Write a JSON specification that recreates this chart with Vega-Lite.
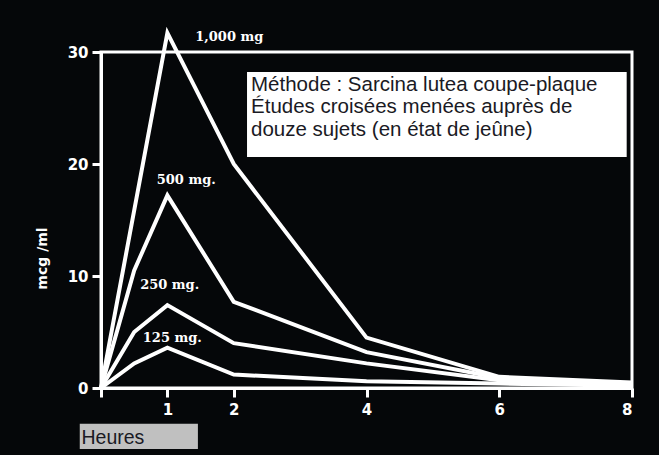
{
  "$schema": "https://vega.github.io/schema/vega-lite/v6.json",
  "width": 531,
  "height": 336,
  "autosize": {"type": "none"},
  "padding": {"left": 101, "top": 52, "right": 27, "bottom": 67},
  "background": "#050709",
  "config": {
    "view": {"stroke": "white", "strokeWidth": 3},
    "axis": {
      "grid": false,
      "domainColor": "white",
      "domainWidth": 3,
      "tickColor": "white",
      "tickWidth": 3,
      "labelColor": "white",
      "labelFont": "DejaVu Sans",
      "labelFontWeight": "bold",
      "labelFontSize": 15
    }
  },
  "datasets": {
    "curves": [
      {"dose": "1,000 mg", "hour": 0, "mcg": 0},
      {"dose": "1,000 mg", "hour": 1, "mcg": 31.7},
      {"dose": "1,000 mg", "hour": 2, "mcg": 20},
      {"dose": "1,000 mg", "hour": 4, "mcg": 4.5},
      {"dose": "1,000 mg", "hour": 6, "mcg": 1.0},
      {"dose": "1,000 mg", "hour": 8, "mcg": 0.5},
      {"dose": "500 mg", "hour": 0, "mcg": 0},
      {"dose": "500 mg", "hour": 0.5, "mcg": 10.5},
      {"dose": "500 mg", "hour": 1, "mcg": 17.2},
      {"dose": "500 mg", "hour": 2, "mcg": 7.7},
      {"dose": "500 mg", "hour": 4, "mcg": 3.2},
      {"dose": "500 mg", "hour": 6, "mcg": 0.9},
      {"dose": "500 mg", "hour": 8, "mcg": 0.4},
      {"dose": "250 mg", "hour": 0, "mcg": 0},
      {"dose": "250 mg", "hour": 0.5, "mcg": 5.0},
      {"dose": "250 mg", "hour": 1, "mcg": 7.4},
      {"dose": "250 mg", "hour": 2, "mcg": 4.0},
      {"dose": "250 mg", "hour": 4, "mcg": 2.2},
      {"dose": "250 mg", "hour": 6, "mcg": 0.7},
      {"dose": "250 mg", "hour": 8, "mcg": 0.3},
      {"dose": "125 mg", "hour": 0, "mcg": 0},
      {"dose": "125 mg", "hour": 0.5, "mcg": 2.2},
      {"dose": "125 mg", "hour": 1, "mcg": 3.6},
      {"dose": "125 mg", "hour": 2, "mcg": 1.2},
      {"dose": "125 mg", "hour": 4, "mcg": 0.6},
      {"dose": "125 mg", "hour": 6, "mcg": 0.4},
      {"dose": "125 mg", "hour": 8, "mcg": 0.2}
    ],
    "labels": [
      {"label": "1,000 mg", "hour": 1.42, "mcg": 31.3},
      {"label": "500 mg.", "hour": 0.84, "mcg": 18.6},
      {"label": "250 mg.", "hour": 0.59, "mcg": 9.2},
      {"label": "125 mg.", "hour": 0.63, "mcg": 4.5}
    ],
    "one": [{}]
  },
  "layer": [
    {
      "data": {"name": "one"},
      "mark": {"type": "rect", "color": "#c0c0c0"},
      "encoding": {
        "x": {"datum": -0.32, "type": "quantitative", "scale": {"domain": [0, 8], "nice": false}},
        "x2": {"datum": 1.46},
        "y": {"datum": -3.2, "type": "quantitative", "scale": {"domain": [0, 30], "nice": false}},
        "y2": {"datum": -5.45}
      }
    },
    {
      "data": {"name": "curves"},
      "mark": {"type": "line", "color": "white", "strokeWidth": 4, "strokeJoin": "miter"},
      "encoding": {
        "x": {
          "field": "hour",
          "type": "quantitative",
          "scale": {"domain": [0, 8], "nice": false},
          "axis": {
            "values": [0, 1, 2, 4, 6, 8],
            "format": "d",
            "labelExpr": "datum.value == 0 ? '' : datum.label",
            "tickSize": 9,
            "labelPadding": 5,
            "zindex": 1,
            "title": "Heures",
            "titleX": -20,
            "titleY": 49,
            "titleAlign": "left",
            "titleBaseline": "middle",
            "titleColor": "#1a1a24",
            "titleFont": "Liberation Sans",
            "titleFontWeight": "normal",
            "titleFontSize": 19.5
          }
        },
        "y": {
          "field": "mcg",
          "type": "quantitative",
          "scale": {"domain": [0, 30], "nice": false},
          "axis": {
            "values": [0, 10, 20, 30],
            "tickSize": 9,
            "labelPadding": 4,
            "title": "mcg /ml",
            "titleX": -59,
            "titleY": 206,
            "titleAngle": -90,
            "titleAlign": "center",
            "titleBaseline": "middle",
            "titleColor": "white",
            "titleFont": "DejaVu Sans",
            "titleFontWeight": "bold",
            "titleFontSize": 14
          }
        },
        "detail": {"field": "dose"}
      }
    },
    {
      "data": {"name": "labels"},
      "mark": {"type": "text", "color": "white", "font": "DejaVu Serif", "fontWeight": "bold", "fontSize": 13, "align": "left", "baseline": "middle"},
      "encoding": {
        "x": {"field": "hour", "type": "quantitative"},
        "y": {"field": "mcg", "type": "quantitative"},
        "text": {"field": "label"}
      }
    },
    {
      "data": {"name": "one"},
      "mark": {"type": "rect", "color": "white"},
      "encoding": {
        "x": {"datum": 2.2, "type": "quantitative"},
        "x2": {"datum": 7.92},
        "y": {"datum": 28.21, "type": "quantitative"},
        "y2": {"datum": 20.63}
      }
    },
    {
      "data": {"name": "one"},
      "mark": {"type": "text", "color": "#1a1a24", "font": "Liberation Sans", "fontSize": 20.5, "align": "left", "baseline": "alphabetic", "lineHeight": 22.5},
      "encoding": {
        "x": {"datum": 2.26, "type": "quantitative"},
        "y": {"datum": 26.52, "type": "quantitative"},
        "text": {"value": ["Méthode : Sarcina lutea coupe-plaque", "Études croisées menées auprès de", "douze sujets (en état de jeûne)"]}
      }
    }
  ]
}
